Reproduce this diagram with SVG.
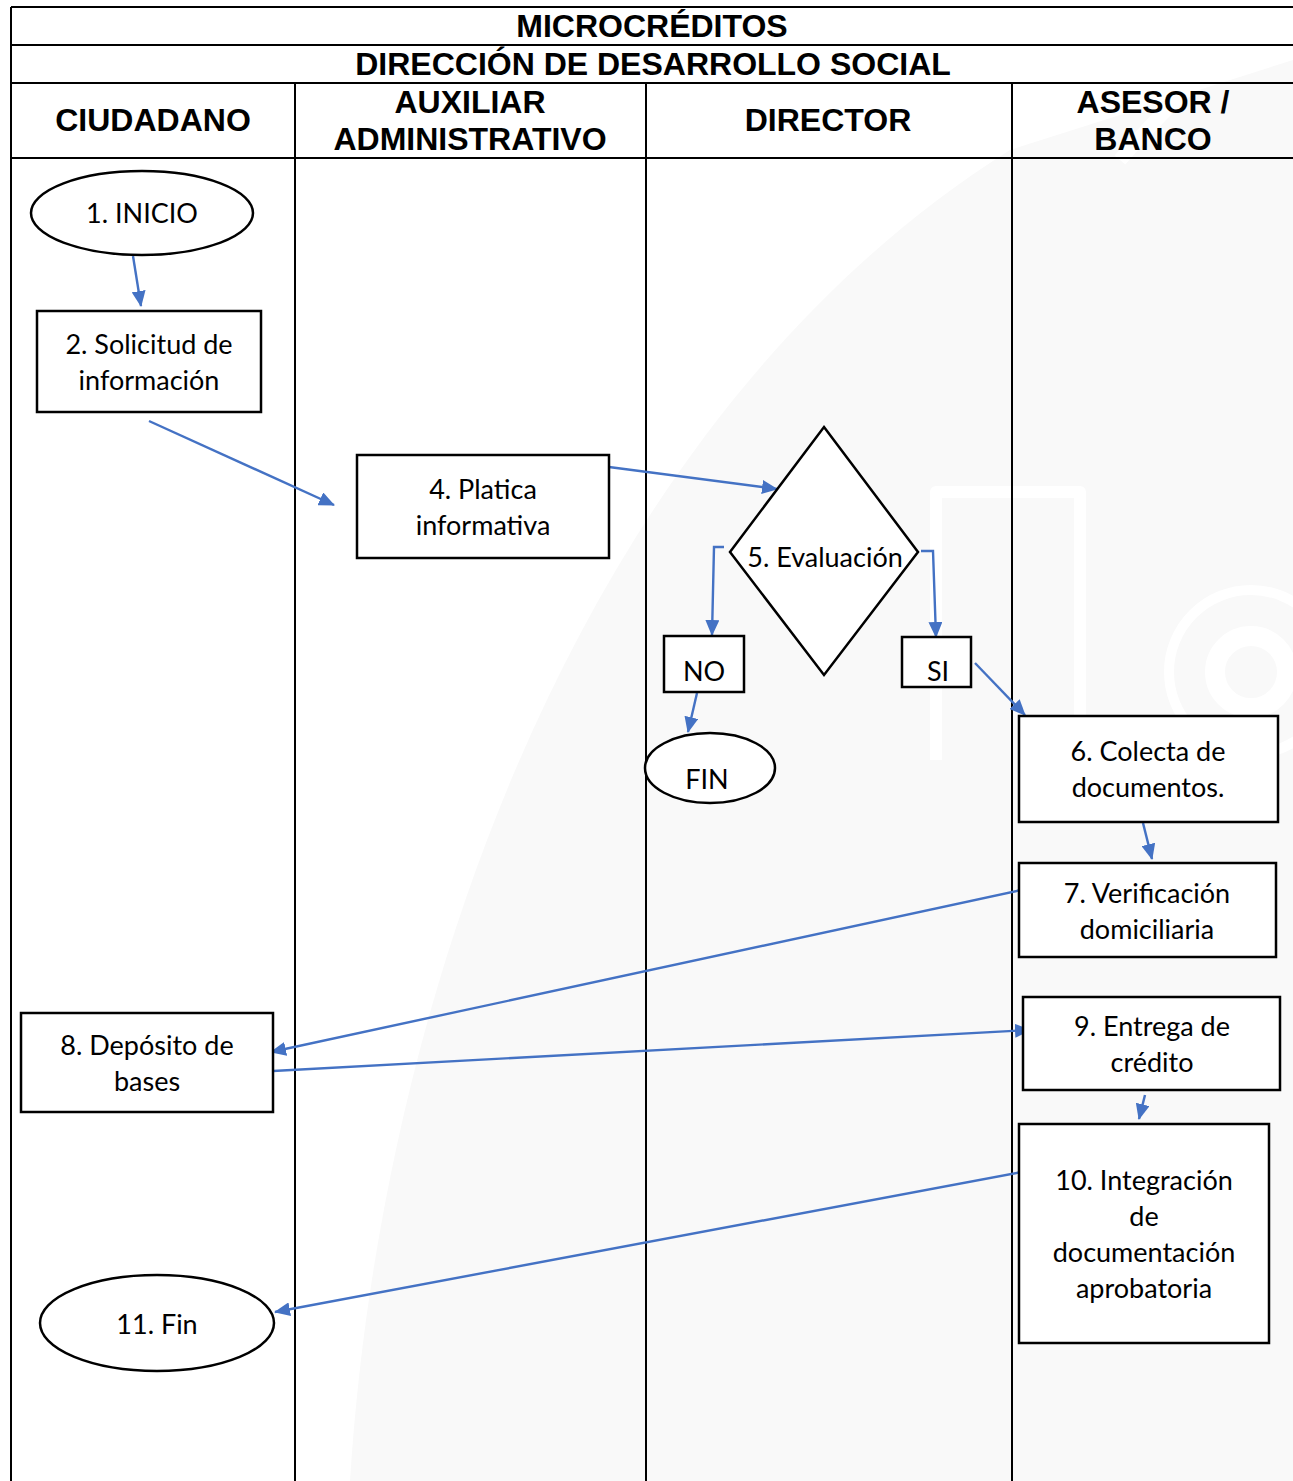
<svg xmlns="http://www.w3.org/2000/svg" width="1293" height="1481" viewBox="0 0 1293 1481">
  <defs>
    <marker id="arrow" viewBox="0 0 16 14" refX="15" refY="7" markerWidth="16" markerHeight="14" markerUnits="userSpaceOnUse" orient="auto">
      <path d="M0,0 L16,7 L0,14 Z" fill="#4472C4"/>
    </marker>
    <style>
      .head { font-family: "Liberation Sans", Arial, sans-serif; font-weight: bold; font-size: 32px; fill: #000; text-anchor: middle; }
      .label { font-family: Lato, "Liberation Sans", sans-serif; font-size: 27px; fill: #000; text-anchor: middle; }
      .box { fill: #fff; stroke: #000; stroke-width: 2.5; }
      .grid { stroke: #000; stroke-width: 2; fill: none; }
      .flow { stroke: #4472C4; stroke-width: 2.4; fill: none; marker-end: url(#arrow); }
      .mark { stroke: #ffffff; fill: none; }
    </style>
  </defs>

  <!-- page background with faint emblem -->
  <rect x="0" y="0" width="1293" height="1481" fill="#ffffff"/>
  <path d="M350,1481 C380,1000 580,420 1010,150 L1293,60 L1293,1481 Z" fill="#f9f9f9"/>
  <g class="mark">
    <path d="M480,600 C550,420 690,260 910,160" stroke-width="10"/>
    <path d="M1120,160 C1180,90 1240,40 1293,10" stroke-width="14"/>
    <path d="M936,760 L936,492 L1080,492 L1080,760" stroke-width="12" stroke-linejoin="round"/>
    <circle cx="1251" cy="672" r="36" stroke-width="20"/>
    <circle cx="1251" cy="672" r="82" stroke-width="10"/>
  </g>

  <!-- swimlane frame -->
  <g id="lanes">
    <path class="grid" d="M11,7 H1293 M11,45 H1293 M11,83 H1293 M11,158 H1293"/>
    <path class="grid" d="M11,7 V1481 M295,83 V1481 M646,83 V1481 M1012,83 V1481"/>
    <text class="head" x="652" y="37">MICROCRÉDITOS</text>
    <text class="head" x="653" y="75">DIRECCIÓN DE DESARROLLO SOCIAL</text>
    <text class="head" x="153" y="131">CIUDADANO</text>
    <text class="head" x="470" y="113">AUXILIAR</text>
    <text class="head" x="470" y="150">ADMINISTRATIVO</text>
    <text class="head" x="828" y="131">DIRECTOR</text>
    <text class="head" x="1153" y="113">ASESOR /</text>
    <text class="head" x="1153" y="150">BANCO</text>
  </g>

  <!-- connectors -->
  <g id="connectors">
    <path class="flow" d="M133,256 L141,306"/>
    <path class="flow" d="M149,421 L334,505"/>
    <path class="flow" d="M609,467 L777,489"/>
    <path class="flow" d="M724,547 H714 L712,635"/>
    <path class="flow" d="M921,551 H933 L936,637"/>
    <path class="flow" d="M975,663 L1025,715"/>
    <path class="flow" d="M697,693 L688,732"/>
    <path class="flow" d="M1143,823 L1152,859"/>
    <path class="flow" d="M1021,890 L271,1052"/>
    <path class="flow" d="M273,1071 L1030,1030"/>
    <path class="flow" d="M1145,1095 L1139,1119"/>
    <path class="flow" d="M1027,1171 L275,1312"/>
  </g>

  <!-- process nodes -->
  <g id="n1">
    <ellipse class="box" cx="142" cy="213" rx="111" ry="42"/>
    <text class="label" x="142" y="223">1. INICIO</text>
  </g>
  <g id="n2">
    <rect class="box" x="37" y="311" width="224" height="101"/>
    <text class="label" x="149" y="354">2. Solicitud de</text>
    <text class="label" x="149" y="390">información</text>
  </g>
  <g id="n4">
    <rect class="box" x="357" y="455" width="252" height="103"/>
    <text class="label" x="483" y="499">4. Platica</text>
    <text class="label" x="483" y="535">informativa</text>
  </g>
  <g id="n5">
    <path class="box" d="M824,427 L918,552 L824,675 L730,552 Z"/>
    <text class="label" x="825" y="567">5. Evaluación</text>
  </g>
  <g id="no">
    <rect class="box" x="664" y="636" width="80" height="56"/>
    <text class="label" x="704" y="681">NO</text>
  </g>
  <g id="si">
    <rect class="box" x="902" y="637" width="69" height="50"/>
    <text class="label" x="938" y="681">SI</text>
  </g>
  <g id="fin">
    <ellipse class="box" cx="710" cy="768" rx="65" ry="35"/>
    <text class="label" x="707" y="789">FIN</text>
  </g>
  <g id="n6">
    <rect class="box" x="1019" y="716" width="259" height="106"/>
    <text class="label" x="1148" y="761">6. Colecta de</text>
    <text class="label" x="1148" y="797">documentos.</text>
  </g>
  <g id="n7">
    <rect class="box" x="1019" y="863" width="257" height="94"/>
    <text class="label" x="1147" y="903">7. Verificación</text>
    <text class="label" x="1147" y="939">domiciliaria</text>
  </g>
  <g id="n8">
    <rect class="box" x="21" y="1013" width="252" height="99"/>
    <text class="label" x="147" y="1055">8. Depósito de</text>
    <text class="label" x="147" y="1091">bases</text>
  </g>
  <g id="n9">
    <rect class="box" x="1023" y="997" width="257" height="93"/>
    <text class="label" x="1152" y="1036">9. Entrega de</text>
    <text class="label" x="1152" y="1072">crédito</text>
  </g>
  <g id="n10">
    <rect class="box" x="1019" y="1124" width="250" height="219"/>
    <text class="label" x="1144" y="1190">10. Integración</text>
    <text class="label" x="1144" y="1226">de</text>
    <text class="label" x="1144" y="1262">documentación</text>
    <text class="label" x="1144" y="1298">aprobatoria</text>
  </g>
  <g id="n11">
    <ellipse class="box" cx="157" cy="1323" rx="117" ry="48"/>
    <text class="label" x="157" y="1334">11. Fin</text>
  </g>
</svg>
